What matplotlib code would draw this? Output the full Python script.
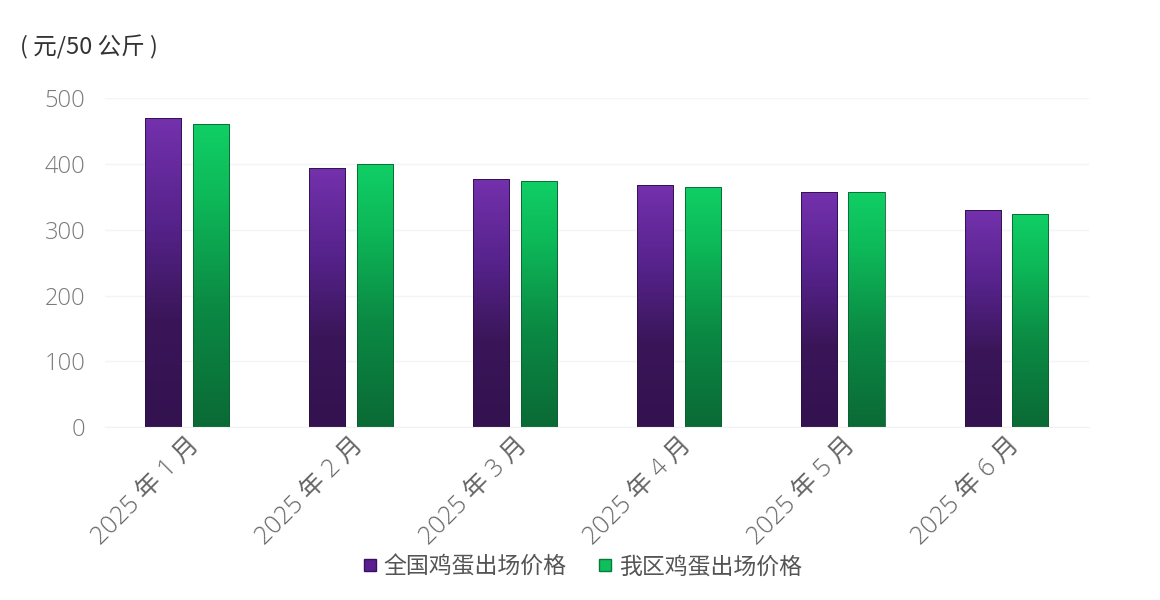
import matplotlib
matplotlib.use("Agg")
import matplotlib.pyplot as plt
import numpy as np
from matplotlib.colors import LinearSegmentedColormap
from matplotlib.lines import Line2D
import matplotlib.transforms as mtransforms

plt.rcParams['font.family'] = ['Noto Sans CJK SC', 'DejaVu Sans']

categories = ["2025 年 1 月", "2025 年 2 月", "2025 年 3 月", "2025 年 4 月", "2025 年 5 月", "2025 年 6 月"]
national = [470, 394, 378, 369, 357, 330]
local = [461, 401, 375, 366, 357, 324]
series_names = ["全国鸡蛋出场价格", "我区鸡蛋出场价格"]
yticks = [0, 100, 200, 300, 400, 500]
unit_label = "( 元/50 公斤 )"

purple_cmap = LinearSegmentedColormap.from_list(
    "p", [(0.0, "#33124f"), (0.35, "#3a1659"), (0.65, "#55228a"), (1.0, "#7431ad")])
green_cmap = LinearSegmentedColormap.from_list(
    "g", [(0.0, "#0a6a35"), (0.4, "#0b8a44"), (0.75, "#0db858"), (1.0, "#10cf65")])

fig = plt.figure(figsize=(11.6, 6.0), dpi=100)
ax = fig.add_axes([0.0905, 0.288, 0.848, 0.548])

x = np.arange(len(categories))
w = 0.22
off = 0.145

grad = np.linspace(0, 1, 256).reshape(-1, 1)
for vals, dx, cmap, edge in [(national, -off, purple_cmap, "#2a0f45"),
                              (local, off, green_cmap, "#0a5f30")]:
    bars = ax.bar(x + dx, vals, width=w, color="none", edgecolor=edge, linewidth=0.6, zorder=3)
    for b in bars:
        x0, y0 = b.get_x(), b.get_y()
        bw, bh = b.get_width(), b.get_height()
        im = ax.imshow(grad, extent=[x0, x0 + bw, y0, y0 + bh], origin="lower",
                       cmap=cmap, aspect="auto", zorder=2)
        im.set_clip_path(b)

ax.set_xlim(-0.5, 5.5)
ax.set_ylim(0, 500)
ax.set_yticks(yticks)
ax.set_yticklabels([str(v) for v in yticks], color="#7a7a7a", fontsize=17,
                   family=["Open Sans", "DejaVu Sans"], fontweight="light")
ax.tick_params(axis="y", length=0, pad=14)
ax.grid(axis="y", color="#f4f4f6", linewidth=1.0, zorder=0)
for s in ["top", "right", "left"]:
    ax.spines[s].set_visible(False)
ax.spines["bottom"].set_color("#f2f2f4")

ax.set_xticks(x)
ax.set_xticklabels(categories, rotation=45, ha="right", va="top",
                   rotation_mode="anchor", color="#666666", fontsize=18,
                   family=["Open Sans", "Noto Sans CJK SC", "DejaVu Sans"],
                   fontweight="light")
offset = mtransforms.ScaledTranslation(29 / 100, -23 / 100, fig.dpi_scale_trans)
for lbl in ax.get_xticklabels():
    lbl.set_transform(lbl.get_transform() + offset)
ax.tick_params(axis="x", length=0)

fig.text(0.017, 0.922, unit_label, fontsize=17, color="#333333", va="center", ha="left")

handles = [Line2D([], [], marker="s", linestyle="none", markersize=9,
                  markerfacecolor="#5a1f8e", markeredgecolor="#3a1060"),
           Line2D([], [], marker="s", linestyle="none", markersize=9,
                  markerfacecolor="#0fbf5c", markeredgecolor="#0a7a3a")]
leg = fig.legend(handles, series_names, loc="center", bbox_to_anchor=(0.5, 0.055),
                 ncol=2, frameon=False, handletextpad=0.1,
                 columnspacing=1.2, handlelength=1.0,
                 prop={"size": 16.5, "weight": "light", "family": ["Noto Sans CJK SC", "DejaVu Sans"]})
for t in leg.get_texts():
    t.set_color("#555555")

fig.savefig("out.png", dpi=100, facecolor="white")
